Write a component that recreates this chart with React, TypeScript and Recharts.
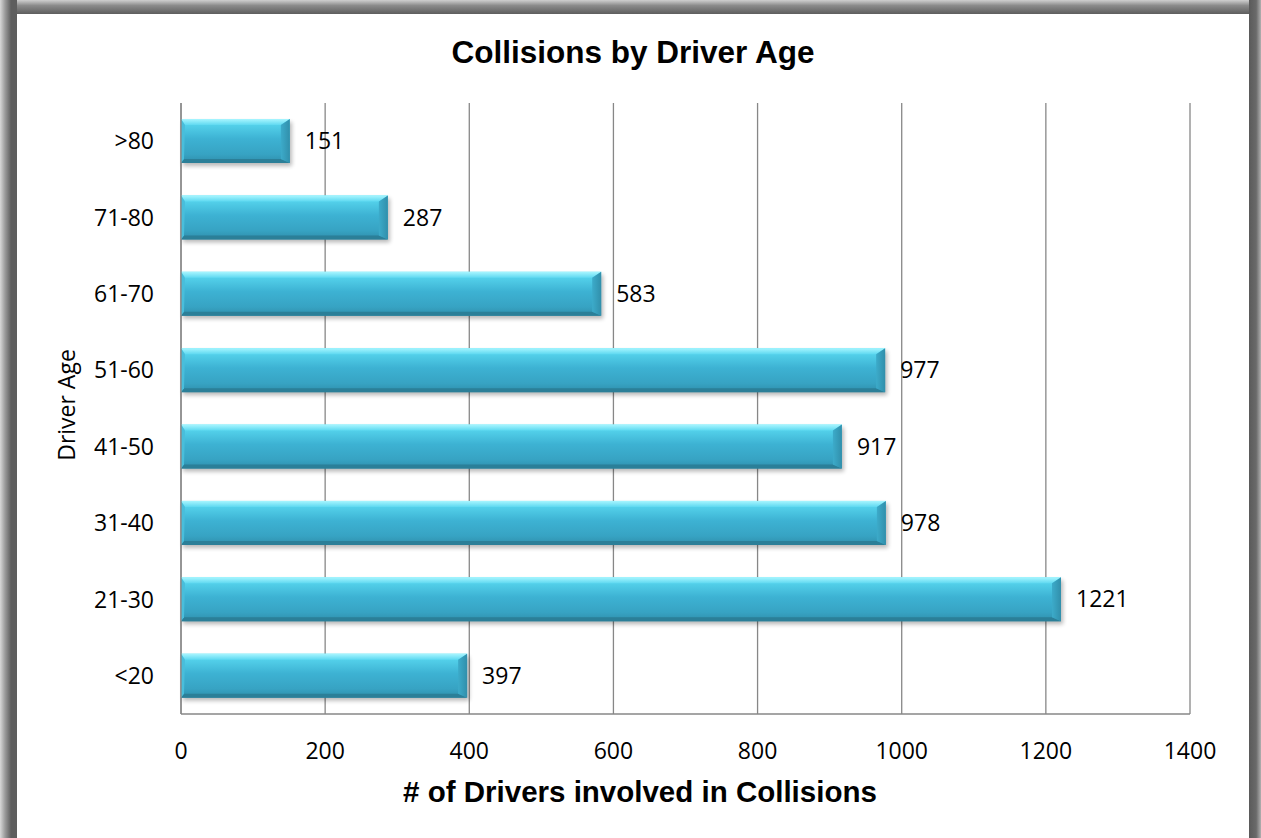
import React from "react";
import { BarChart, Bar, XAxis, YAxis, CartesianGrid, LabelList } from "recharts";

const ageGroups = [">80", "71-80", "61-70", "51-60", "41-50", "31-40", "21-30", "<20"];
const driverCounts = [151, 287, 583, 977, 917, 978, 1221, 397];
const xTicks = [0, 200, 400, 600, 800, 1000, 1200, 1400];

const data = ageGroups.map((age, i) => ({ age, value: driverCounts[i] }));

const BevelBar = (props: any) => {
  const { x, y, width, height } = props;
  if (!width || width <= 0) return null;
  const b = 6;
  const r = 9;
  return (
    <g>
      <rect x={x + 2} y={y + 3} width={width} height={height} fill="#000" opacity={0.28} filter="url(#barShadow)" />
      <rect x={x} y={y} width={width} height={height} fill="url(#barFace)" />
      <polygon
        points={`${x},${y} ${x + width},${y} ${x + width - r},${y + b} ${x + 4},${y + b}`}
        fill="url(#barTop)"
      />
      <polygon
        points={`${x},${y + height} ${x + width},${y + height} ${x + width - r},${y + height - 4} ${x + 3},${y + height - 4}`}
        fill="#2b7f98"
      />
      <polygon
        points={`${x + width},${y} ${x + width},${y + height} ${x + width - r},${y + height - 4} ${x + width - r},${y + b}`}
        fill="url(#barRight)"
      />
      <polygon
        points={`${x},${y} ${x + 4},${y + b} ${x + 3},${y + height - 4} ${x},${y + height}`}
        fill="#49bedb"
      />
    </g>
  );
};

export default function App() {
  return (
    <div
      style={{
        position: "absolute",
        left: 0,
        top: 0,
        width: 1261,
        height: 838,
        background: "#ffffff",
        overflow: "hidden",
      }}
    >
      {/* frame */}
      <div style={{ position: "absolute", left: 0, top: 0, width: 1261, height: 14, background: "linear-gradient(to bottom, #cfcfcf 0%, #8a8a8a 40%, #5e5e5e 100%)" }} />
      <div style={{ position: "absolute", left: 0, top: 0, width: 17, height: 838, background: "linear-gradient(to right, #d8d8d8 0%, #9a9a9a 30%, #5e5e5e 65%, #5e5e5e 100%)" }} />
      <div style={{ position: "absolute", left: 1249, top: 0, width: 12, height: 838, background: "linear-gradient(to right, #5a5a5a 0%, #6a6a6a 60%, #b0b0b0 100%)" }} />

      <div
        style={{
          position: "absolute",
          left: 17,
          top: 32,
          width: 1232,
          textAlign: "center",
          fontFamily: "Liberation Sans, Arial, sans-serif",
          fontWeight: "bold",
          fontSize: 31.5,
          color: "#000",
          lineHeight: "40px",
        }}
      >
        Collisions by Driver Age
      </div>

      <div
        style={{
          position: "absolute",
          left: 17,
          top: 773,
          width: 1246,
          textAlign: "center",
          fontFamily: "Liberation Sans, Arial, sans-serif",
          fontWeight: "bold",
          fontSize: 29.5,
          color: "#000",
          lineHeight: "38px",
        }}
      >
        # of Drivers involved in Collisions
      </div>

      <div
        style={{
          position: "absolute",
          left: 66 - 100,
          top: 405 - 15,
          width: 200,
          height: 30,
          lineHeight: "30px",
          textAlign: "center",
          transform: "rotate(-90deg)",
          fontFamily: "Liberation Sans Narrow, Open Sans, sans-serif",
          fontSize: 23,
          color: "#000",
        }}
      >
        Driver Age
      </div>

      <div style={{ position: "absolute", left: 0, top: 0 }}>
        <BarChart
          width={1261}
          height={838}
          data={data}
          layout="vertical"
          margin={{ top: 103, right: 71, bottom: 34, left: 0 }}
          barSize={44}
        >
          <defs>
            <linearGradient id="barFace" x1="0" y1="0" x2="0" y2="1">
              <stop offset="0%" stopColor="#6fe9fb" />
              <stop offset="15%" stopColor="#52cfe9" />
              <stop offset="45%" stopColor="#3db2d3" />
              <stop offset="80%" stopColor="#37a3c3" />
              <stop offset="100%" stopColor="#2f8eab" />
            </linearGradient>
            <linearGradient id="barTop" x1="0" y1="0" x2="0" y2="1">
              <stop offset="0%" stopColor="#a9f6ff" />
              <stop offset="100%" stopColor="#5fd9f1" />
            </linearGradient>
            <linearGradient id="barRight" x1="0" y1="0" x2="1" y2="0">
              <stop offset="0%" stopColor="#3cabca" />
              <stop offset="100%" stopColor="#318fab" />
            </linearGradient>
            <filter id="barShadow" x="-5%" y="-20%" width="110%" height="140%">
              <feGaussianBlur stdDeviation="2" />
            </filter>
          </defs>
          <CartesianGrid horizontal={false} vertical={true} stroke="#878787" strokeWidth={1.3} />
          <XAxis
            type="number"
            domain={[0, 1400]}
            ticks={xTicks}
            interval={0}
            height={90}
            tickSize={0}
            tickMargin={29}
            axisLine={{ stroke: "#878787", strokeWidth: 1.3 }}
            tickLine={false}
            tick={{ fill: "#000", fontSize: 23, fontFamily: "Open Sans, sans-serif" }}
          />
          <YAxis
            type="category"
            dataKey="age"
            width={181}
            tickSize={0}
            tickMargin={27}
            axisLine={{ stroke: "#878787", strokeWidth: 1.3 }}
            tickLine={false}
            tick={{ fill: "#000", fontSize: 23, fontFamily: "Open Sans, sans-serif" }}
          />
          <Bar dataKey="value" shape={<BevelBar />} isAnimationActive={false}>
            <LabelList
              dataKey="value"
              position="right"
              offset={15}
              fill="#000"
              fontSize={23}
              fontFamily="Open Sans, sans-serif"
            />
          </Bar>
        </BarChart>
      </div>
    </div>
  );
}
